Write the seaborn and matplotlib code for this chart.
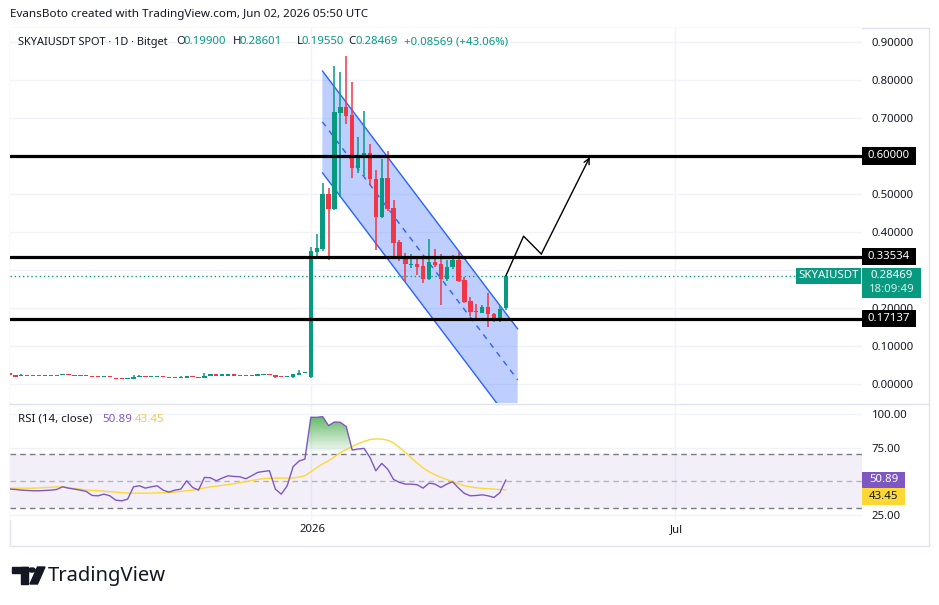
import numpy as np
import pandas as pd
import matplotlib
matplotlib.use("Agg")
import matplotlib.pyplot as plt
import seaborn as sns
from matplotlib.patches import Polygon, Rectangle, Circle, PathPatch

# ---- data (daily candles, index 0 = first full candle) ----
day = list(range(-1, 84))

opens = [0.0280, 0.0237, 0.0205, 0.0212, 0.0210, 0.0210, 0.0204, 0.0211, 0.0207, 0.0233,
         0.0238, 0.0215, 0.0210, 0.0210, 0.0188, 0.0188, 0.0182, 0.0187, 0.0160, 0.0135,
         0.0128, 0.0123, 0.0182, 0.0190, 0.0184, 0.0186, 0.0190, 0.0160, 0.0160, 0.0164,
         0.0158, 0.0188, 0.0160, 0.0150, 0.0220, 0.0225, 0.0220, 0.0222, 0.0226, 0.0224,
         0.0222, 0.0218, 0.0222, 0.0230, 0.0237, 0.0237, 0.0186, 0.0181, 0.0175, 0.0240,
         0.0285,
         0.018, 0.347, 0.355, 0.499, 0.461, 0.714, 0.730, 0.707, 0.568, 0.594,
         0.607, 0.539, 0.439, 0.543, 0.462, 0.374, 0.338, 0.314, 0.315, 0.311,
         0.277, 0.321, 0.316, 0.277, 0.307, 0.327, 0.274, 0.219, 0.192, 0.188,
         0.202, 0.184, 0.168, 0.199]
highs = [0.0290, 0.0240, 0.0260, 0.0235, 0.0235, 0.0235, 0.0235, 0.0235, 0.0215, 0.0240,
         0.0245, 0.0225, 0.0215, 0.0215, 0.0195, 0.0190, 0.0190, 0.0190, 0.0162, 0.0145,
         0.0155, 0.0237, 0.0240, 0.0200, 0.0190, 0.0190, 0.0205, 0.0165, 0.0170, 0.0205,
         0.0215, 0.0190, 0.0165, 0.0290, 0.0250, 0.0230, 0.0225, 0.0225, 0.0240, 0.0228,
         0.0225, 0.0225, 0.0245, 0.0240, 0.0240, 0.0240, 0.0190, 0.0190, 0.0270, 0.0377,
         0.0295,
         0.361, 0.395, 0.528, 0.515, 0.837, 0.821, 0.863, 0.795, 0.651, 0.719,
         0.631, 0.563, 0.592, 0.613, 0.484, 0.380, 0.345, 0.342, 0.331, 0.335,
         0.382, 0.355, 0.342, 0.325, 0.339, 0.348, 0.282, 0.230, 0.210, 0.208,
         0.239, 0.186, 0.208, 0.28601]
lows = [0.0230, 0.0195, 0.0200, 0.0200, 0.0200, 0.0200, 0.0200, 0.0200, 0.0200, 0.0228,
        0.0230, 0.0200, 0.0200, 0.0200, 0.0180, 0.0180, 0.0178, 0.0180, 0.0120, 0.0120,
        0.0125, 0.0120, 0.0180, 0.0180, 0.0180, 0.0180, 0.0180, 0.0150, 0.0150, 0.0160,
        0.0150, 0.0180, 0.0150, 0.0148, 0.0210, 0.0210, 0.0215, 0.0215, 0.0215, 0.0215,
        0.0215, 0.0215, 0.0215, 0.0225, 0.0230, 0.0170, 0.0180, 0.0180, 0.0170, 0.0230,
        0.0280,
        0.016, 0.330, 0.350, 0.325, 0.458, 0.493, 0.684, 0.541, 0.554, 0.547,
        0.523, 0.352, 0.436, 0.455, 0.333, 0.324, 0.269, 0.304, 0.287, 0.267,
        0.274, 0.307, 0.208, 0.272, 0.303, 0.268, 0.214, 0.179, 0.170, 0.186,
        0.151, 0.164, 0.164, 0.1955]
closes = [0.0235, 0.0197, 0.0212, 0.0205, 0.0204, 0.0204, 0.0211, 0.0205, 0.0203, 0.0238,
          0.0233, 0.0209, 0.0205, 0.0204, 0.0182, 0.0182, 0.0187, 0.0182, 0.0125, 0.0130,
          0.0135, 0.0184, 0.0190, 0.0184, 0.0188, 0.0189, 0.0184, 0.0156, 0.0166, 0.0170,
          0.0210, 0.0183, 0.0156, 0.0220, 0.0225, 0.0220, 0.0224, 0.0226, 0.0221, 0.0219,
          0.0218, 0.0222, 0.0227, 0.0237, 0.0232, 0.0175, 0.0181, 0.0186, 0.0263, 0.0280,
          0.0290,
          0.351, 0.357, 0.499, 0.461, 0.717, 0.730, 0.706, 0.568, 0.596, 0.607,
          0.539, 0.439, 0.543, 0.461, 0.372, 0.335, 0.315, 0.317, 0.309, 0.277,
          0.321, 0.313, 0.276, 0.307, 0.327, 0.271, 0.217, 0.190, 0.190, 0.202,
          0.183, 0.168, 0.197, 0.28469]

rsi = [44.0, 43.75, 43.25, 43.0, 42.75, 42.75, 43.0, 43.25, 43.75, 45.75,
       44.75, 44.0, 43.25, 42.25, 39.25, 39.0, 40.25, 39.0, 35.75, 35.25,
       36.5, 45.75, 46.5, 44.75, 45.75, 46.5, 43.25, 41.75, 43.25, 44.0,
       50.25, 45.25, 43.25, 52.75, 52.5, 50.25, 52.25, 54.0, 53.5, 53.25,
       51.75, 54.0, 56.5, 57.25, 57.75, 44.0, 40.25, 46.5, 60.75, 65.0,
       66.5, 97.75, 97.75, 98.25, 91.5, 94.25, 94.0, 90.75, 73.25, 74.0,
       74.5, 67.75, 57.75, 63.25, 59.0, 51.25, 49.0, 47.75, 47.75, 47.25,
       44.75, 48.5, 47.75, 45.25, 47.75, 49.5, 44.75, 40.75, 39.0, 39.25,
       39.75, 39.0, 37.75, 41.5, 50.89]
rsi_ma = [44.7, 44.7, 44.7, 44.7, 44.7, 44.9, 45.2, 45.4, 45.7, 45.5,
          45.0, 44.5, 44.0, 43.4, 43.1, 42.8, 42.4, 42.1, 41.8, 41.4,
          41.1, 41.0, 41.0, 41.0, 41.0, 41.2, 41.3, 41.4, 41.8, 42.3,
          42.8, 43.2, 44.1, 44.9, 45.7, 46.3, 46.8, 47.4, 48.0, 48.8,
          49.6, 50.5, 51.2, 51.9, 52.1, 52.2, 52.2, 52.25, 52.3, 53.1,
          54.0, 57.0, 60.1, 62.9, 65.2, 68.2, 71.2, 73.6, 76.0, 78.0,
          79.7, 81.1, 81.5, 81.5, 80.6, 78.6, 75.1, 71.5, 67.3, 63.5,
          59.9, 57.0, 54.8, 52.9, 51.2, 49.5, 48.0, 46.5, 45.7, 45.0,
          44.6, 44.3, 44.0, 43.7, 43.45]

levels = [0.60000, 0.33534, 0.17137]
last_close = 0.28469

# price-scale labels that are not hidden behind the level / price tags
price_ticks = [0.0, 0.1, 0.2, 0.4, 0.5, 0.7, 0.8, 0.9]
rsi_ticks = [100, 75, 25]

# drawn parallel channel (anchor candle position, price)
channel_x = [51.95, 85.0]
channel_top = [0.824, 0.145]
channel_mid = [0.690, 0.011]
channel_bot = [0.556, -0.123]

# projected path drawn by the author
path_x = [83.0, 86.0, 89.0, 97.2]
path_y = [0.28469, 0.389, 0.342, 0.597]

xtick_pos = [50.2, 111.8]
xtick_lab = ["2026", "Jul"]

GREEN = "#089981"
RED = "#F23645"
PURPLE = "#7E57C2"
YELLOW = "#FDD835"
GRID = "#F0F3FA"
TXT = "#131722"

df = pd.DataFrame({"day": day, "open": opens, "high": highs, "low": lows,
                   "close": closes, "rsi": rsi, "rsi_ma": rsi_ma})

sns.set_theme(style="white")
plt.rcParams["font.family"] = ["Noto Sans", "DejaVu Sans"]
plt.rcParams["axes.unicode_minus"] = False

W, H = 939, 605
fig = plt.figure(figsize=(W / 100, H / 100), dpi=100)
fig.patch.set_facecolor("white")


def fx(px):
    return px / W


def fy(py):
    return 1 - py / H


ax = fig.add_axes([fx(10), fy(403), fx(862) - fx(10), fy(28) - fy(403)])
ax2 = fig.add_axes([fx(10), fy(520), fx(862) - fx(10), fy(404) - fy(520)])
for a in (ax, ax2):
    a.set_facecolor("white")
    for s in a.spines.values():
        s.set_visible(False)
    a.set_xlim(-0.9, 143.26)
    for xp in xtick_pos:
        a.axvline(xp - 0.2, color=GRID, lw=1, zorder=0)

# ---- price pane ----
ax.set_ylim(-0.05, 0.93684)
for t in np.arange(0, 0.95, 0.1):
    ax.axhline(t, color=GRID, lw=1, zorder=0)
ax.yaxis.tick_right()
ax.set_yticks(price_ticks)
ax.set_yticklabels([f"{t:.5f}" for t in price_ticks])
ax.tick_params(axis="y", length=0, pad=7, labelsize=8.2, labelcolor=TXT)
ax.tick_params(axis="x", length=0, labelbottom=False)
ax.set_xlabel("")
ax.set_ylabel("")

# channel
chan = Polygon([[channel_x[0], channel_top[0]], [channel_x[1], channel_top[1]],
                [channel_x[1], channel_bot[1]], [channel_x[0], channel_bot[0]]],
               closed=True, facecolor="#2962FF", alpha=0.3, edgecolor="none", zorder=1)
ax.add_patch(chan)
ax.plot(channel_x, channel_top, color="#2962FF", lw=1, zorder=2)
ax.plot(channel_x, channel_bot, color="#2962FF", lw=1, zorder=2)
ax.plot(channel_x, channel_mid, color="#2962FF", lw=1, ls=(0, (4, 4)), zorder=2)

# candles
up = df["close"] >= df["open"]
cols = np.where(up, GREEN, RED)
body_lo = df[["open", "close"]].min(axis=1)
body_h = (df["close"] - df["open"]).abs().clip(lower=0.0030)
ax.vlines(df["day"], df["low"], df["high"], colors=cols, lw=1.1, zorder=4)
ax.bar(df["day"], body_h, bottom=body_lo, width=0.74, color=cols, linewidth=0, zorder=5)

# levels and last price
for lv in levels:
    ax.axhline(lv, color="black", lw=2.3, zorder=6)
ax.hlines(last_close, -0.9, 132.1, color=GREEN, lw=1, ls=(0, (1, 2)), zorder=3)

# projected path
ax.plot(path_x[:3], path_y[:3], color="black", lw=1, zorder=7)
ax.annotate("", xy=(path_x[3], path_y[3]), xytext=(path_x[2], path_y[2]),
            arrowprops=dict(arrowstyle="->", color="black", lw=1,
                            mutation_scale=10, shrinkA=0, shrinkB=0), zorder=7)

# ---- RSI pane ----
ax2.set_ylim(20.9, 107.7)
ax2.axhspan(30, 70, color=PURPLE, alpha=0.09, lw=0, zorder=0)
for t in (100, 75, 25):
    ax2.axhline(t, color=GRID, lw=1, zorder=0)
ax2.axhline(70, color="#787B86", lw=1, ls=(0, (4, 3)), zorder=1)
ax2.axhline(30, color="#787B86", lw=1, ls=(0, (4, 3)), zorder=1)
ax2.axhline(50, color="#B2B5BE", lw=1, ls=(0, (4, 3)), zorder=1)

# overbought gradient fill
xs = df["day"].to_numpy(float)
rv = df["rsi"].to_numpy(float)
fb = ax2.fill_between(xs, rv, 70, where=rv > 70, interpolate=True, color="none", lw=0)
grad = np.zeros((256, 1, 4))
grad[:, 0, 0] = 76 / 255
grad[:, 0, 1] = 175 / 255
grad[:, 0, 2] = 80 / 255
grad[:, 0, 3] = np.linspace(0.0, 0.95, 256)
for p in fb.get_paths():
    clip = PathPatch(p, transform=ax2.transData, facecolor="none", edgecolor="none")
    ax2.add_patch(clip)
    im = ax2.imshow(grad, extent=[40, 65, 70, 100], origin="lower", aspect="auto", zorder=2)
    im.set_clip_path(clip)

sns.lineplot(data=df, x="day", y="rsi_ma", color=YELLOW, lw=1, ax=ax2, zorder=3)
sns.lineplot(data=df, x="day", y="rsi", color=PURPLE, lw=1, ax=ax2, zorder=4)
ax2.set_xlim(-0.9, 143.26)
ax2.set_ylim(20.9, 107.7)
ax2.set_xlabel("")
ax2.set_ylabel("")
ax2.yaxis.tick_right()
ax2.set_yticks(rsi_ticks)
ax2.set_yticklabels([f"{t:.2f}" for t in rsi_ticks])
ax2.tick_params(axis="y", length=0, pad=7, labelsize=8.2, labelcolor=TXT)
ax2.set_xticks(xtick_pos)
ax2.set_xticklabels(xtick_lab)
ax2.tick_params(axis="x", length=0, pad=3, labelsize=8.2, labelcolor=TXT)
ax2.get_xticklabels()[0].set_fontweight("bold")

# ---- frame and separators ----
fig.add_artist(Rectangle((fx(10), fy(546)), fx(929) - fx(10), fy(28) - fy(546),
                         transform=fig.transFigure, fill=False, edgecolor="#E0E3EB", lw=1, zorder=0))
fig.add_artist(plt.Line2D([fx(10), fx(929)], [fy(404), fy(404)], transform=fig.transFigure,
                          color="#E0E3EB", lw=1))


def label_box(x0, y0, x1, y1, fc, text, tc="white", bold=True, size=8.2):
    fig.add_artist(Rectangle((fx(x0), fy(y1)), fx(x1) - fx(x0), fy(y0) - fy(y1),
                             transform=fig.transFigure, facecolor=fc, edgecolor="none", zorder=5))
    if text:
        fig.text(fx((x0 + x1) / 2), fy((y0 + y1) / 2), text, color=tc, size=size,
                 fontweight="bold" if bold else "normal", ha="center", va="center", zorder=6)


for lv in levels:
    yc = 384 - 380 * lv
    label_box(862, yc - 8.5, 916, yc + 8.5, "black", f"{lv:.5f}")
label_box(796, 268, 861, 284, GREEN, "SKYAIUSDT")
label_box(862, 268, 921, 298, GREEN, "")
fig.text(fx(891.5), fy(276), f"{last_close:.5f}", color="white", size=8.2, fontweight="bold",
         ha="center", va="center", zorder=6)
fig.text(fx(891.5), fy(290), "18:09:49", color="#D7F0EB", size=8.2, ha="center", va="center", zorder=6)
label_box(862, 472, 905, 488, PURPLE, f"{rsi[-1]:.2f}", bold=False)
label_box(862, 488, 905, 505, YELLOW, f"{rsi_ma[-1]:.2f}", tc=TXT, bold=False)

# ---- header texts ----
fig.text(fx(10), fy(14), "EvansBoto created with TradingView.com, Jun 02, 2026 05:50 UTC",
         color=TXT, size=8.4, va="center")
hy = fy(42)
fig.text(fx(18), hy, "SKYAIUSDT SPOT · 1D · Bitget", color=TXT, size=7.9, va="center")
for lab, val, xo in [("O", opens[-1], 176), ("H", highs[-1], 232.5), ("L", lows[-1], 296.5),
                     ("C", closes[-1], 348)]:
    fig.text(fx(xo), hy, lab, color=TXT, size=8.2, va="center")
    fig.text(fx(xo + (5.5 if lab == "L" else 7.5)), hy, f"{val:.5f}", color=GREEN, size=8.2, va="center")
chg = closes[-1] - opens[-1]
fig.text(fx(404), hy, f"+{chg:.5f} (+43.06%)", color=GREEN, size=8.2, va="center")

fig.text(fx(18), fy(419), "RSI (14, close)", color=TXT, size=8.3, va="center")
fig.text(fx(102), fy(419), f"{rsi[-1]:.2f}", color=PURPLE, size=8.3, va="center")
fig.text(fx(135), fy(419), f"{rsi_ma[-1]:.2f}", color="#F2C94C", size=8.3, va="center")

# ---- TradingView logo ----
fig.add_artist(Rectangle((fx(12), fy(573)), fx(28) - fx(12), fy(567) - fy(573),
                         transform=fig.transFigure, color=TXT, zorder=5))
fig.add_artist(Rectangle((fx(20.5), fy(584)), fx(28) - fx(20.5), fy(567) - fy(584),
                         transform=fig.transFigure, color=TXT, zorder=5))
fig.add_artist(Circle((fx(32), fy(570)), 3.2 / W, transform=fig.transFigure, color=TXT, zorder=5))
fig.add_artist(Polygon([[fx(37.5), fy(567)], [fx(45), fy(567)], [fx(37.5), fy(584)], [fx(30), fy(584)]],
                       closed=True, transform=fig.transFigure, color=TXT, zorder=5))
fig.text(fx(48), fy(575.5), "TradingView", color=TXT, size=14.5, fontweight="bold", va="center")

fig.savefig("out.png", dpi=100, facecolor="white")
